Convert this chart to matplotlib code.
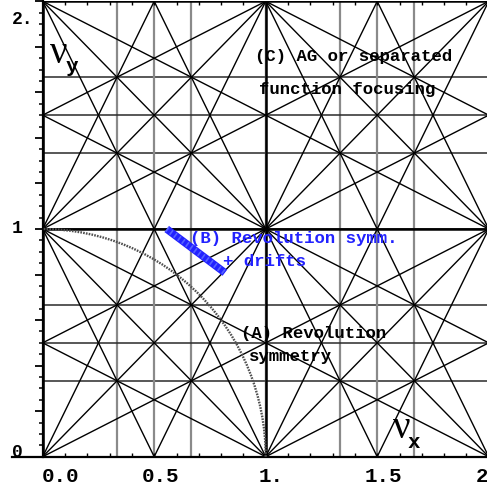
import matplotlib
matplotlib.use("Agg")
import matplotlib.pyplot as plt
from matplotlib.patches import Arc, Rectangle
from matplotlib import transforms
import numpy as np

# Resonance lines m*nux + n*nuy = p, grouped by order |m|+|n|
order1_coeffs = [(1, 0), (0, 1)]
order2_coeffs = [(2, 0), (0, 2), (1, 1), (1, -1)]
order3_coeffs = [(3, 0), (0, 3), (2, 1), (2, -1), (1, 2), (1, -2)]

# Tune range
nu_max = 2.0

# Axis labels
xtick_values = [0.0, 0.5, 1.0, 1.5, 2.0]
xtick_texts = ["0.0", "0.5", "1.", "1.5", "2."]
ytick_values = [0.0, 1.0, 2.0]
ytick_texts = ["0", "1", "2."]

# Working lines
weak_focusing_radius = 1.0          # nux^2 + nuy^2 = 1
drift_band_nux = [0.556, 0.817]     # revolution symmetry + drifts
drift_band_nuy = [1.000, 0.808]

MONO = "Liberation Mono"
SERIF = "Liberation Serif"
BLUE = "#2222ff"

fig = plt.figure(figsize=(4.87, 4.90), dpi=100)
W, H = 487.0, 490.0
x0_px, unit_x = 42.7, 223.0
y0_px, unit_y = 456.7, 227.7
ax = fig.add_axes([11.7 / W, (H - y0_px) / H, (W - 11.7) / W, (2 * unit_y) / H])
ax.set_xlim((11.7 - x0_px) / unit_x, (W - x0_px) / unit_x)
ax.set_ylim(0, nu_max)

clip = Rectangle((0, 0), nu_max, nu_max, transform=ax.transData)


def draw_resonance(m, n, **kw):
    vals = [m * a + n * b for a in (0, nu_max) for b in (0, nu_max)]
    for p in range(int(np.floor(min(vals))), int(np.ceil(max(vals))) + 1):
        if n == 0:
            ln = ax.axvline(p / m, **kw)
        elif m == 0:
            ln = ax.axhline(p / n, **kw)
        else:
            ln = ax.axline((0, p / n), slope=-m / n, **kw)
        ln.set_clip_path(clip)


for m, n in order3_coeffs + order2_coeffs:
    if n == 0:
        draw_resonance(m, n, color="#8a8a8a", lw=1.6, zorder=1)
    elif m == 0:
        draw_resonance(m, n, color="#2a2a2a", lw=1.1, zorder=1)
    else:
        draw_resonance(m, n, color="black", lw=1.0, zorder=2)
for m, n in order1_coeffs:
    draw_resonance(m, n, color="black", lw=1.8, zorder=3)

# (A) revolution symmetry: nux^2 + nuy^2 = 1
ax.add_patch(Arc((0, 0), 2 * weak_focusing_radius, 2 * weak_focusing_radius,
                 theta1=0, theta2=90, color="#505050", lw=1.7,
                 linestyle=(0, (0.7, 0.5)), zorder=4))

# (B) revolution symmetry + drifts
ax.plot(drift_band_nux, drift_band_nuy, color=BLUE, lw=5.5,
        solid_capstyle="butt", zorder=5)
ax.plot(drift_band_nux, drift_band_nuy, color="#5563ff", lw=4.0,
        linestyle=(0, (0.3, 0.6)), zorder=6)

# Axes styling
for s in ("right", "top"):
    ax.spines[s].set_visible(False)
ax.spines["left"].set_position(("data", 0))
ax.spines["left"].set_bounds(0, nu_max)
ax.spines["left"].set_linewidth(1.6)
ax.spines["bottom"].set_linewidth(1.6)

ax.set_xticks(np.round(np.arange(0.1, 2.0, 0.1), 2))
ax.tick_params(axis="x", direction="in", length=3.2, width=1.0,
               top=True, labelbottom=False)
ax.set_yticks(np.round(np.arange(0.0, 2.01, 0.2), 2))
ax.set_yticks(np.round(np.arange(0.0, 2.01, 0.05), 2), minor=True)
ax.tick_params(axis="y", which="major", direction="out", length=5.5,
               width=1.3, labelleft=False)
ax.tick_params(axis="y", which="minor", direction="out", length=3.2, width=1.1)

# Tick labels
x_nudge = [17.8, 6.7, 5.3, 6.5, -0.7]
for v, t, dx in zip(xtick_values, xtick_texts, x_nudge):
    tr = transforms.offset_copy(ax.get_xaxis_transform(), fig=fig,
                                x=dx, y=-(481.7 - y0_px), units="dots")
    ax.text(v, 0, t, transform=tr, ha="center", va="baseline",
            family=MONO, weight="bold", fontsize=15, clip_on=False)

y_base = [0.0, -4.0, -22.7]
for v, t, dy in zip(ytick_values, ytick_texts, y_base):
    tr = transforms.offset_copy(ax.get_yaxis_transform(), fig=fig,
                                x=0.5, y=dy, units="dots")
    ax.text(0, v, t, transform=tr, ha="left", va="baseline",
            family=MONO, weight="bold", fontsize=13, clip_on=False)

# Axis titles: nu_x and nu_y
ax.text(0.034, 1.727, "\u03bd", family=SERIF, fontsize=28, ha="left", va="baseline")
ax.text(0.104, 1.688, "y", family=MONO, weight="bold", fontsize=15, ha="left", va="baseline")
ax.text(1.572, 0.082, "\u03bd", family=SERIF, fontsize=28, ha="left", va="baseline")
ax.text(1.634, 0.038, "x", family=MONO, weight="bold", fontsize=15, ha="left", va="baseline")

# Annotations
txt = dict(family=MONO, weight="bold", fontsize=12.5, va="baseline")
ax.text(1.396, 1.740, "(C) AG or separated", ha="center", **txt)
ax.text(1.367, 1.591, "function focusing", ha="center", **txt)
ax.text(0.662, 0.937, "(B) Revolution symm.", ha="left", color=BLUE, **txt)
ax.text(0.808, 0.836, "+ drifts", ha="left", color=BLUE, **txt)
ax.text(0.887, 0.522, "(A) Revolution", ha="left", **txt)
ax.text(0.927, 0.421, "symmetry", ha="left", **txt)

fig.savefig("out.png", dpi=100)
